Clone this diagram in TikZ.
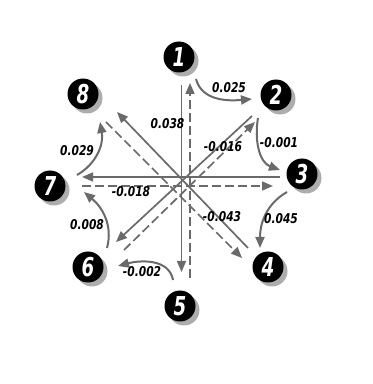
\documentclass[tikz,border=0pt]{standalone}
\usepackage{fontspec}
\newfontfamily\labfont{DejaVu Sans Condensed}
\usetikzlibrary{arrows.meta,calc}
\definecolor{linegrey}{HTML}{6A6A6A}
\definecolor{shadowgrey}{HTML}{ADADAD}
\newcommand{\digitnum}[1]{\scalebox{0.78}[1]{#1}}
\newcommand{\valtext}[1]{\scalebox{0.88}[1]{#1}}
\begin{document}
\begin{tikzpicture}[x=1pt,y=1pt,
  num/.style={circle, fill=black, minimum size=31pt, inner sep=0pt, text=white,
    font=\labfont\bfseries\itshape\fontsize{26}{26}\selectfont},
  shadowc/.style={circle, fill=shadowgrey, minimum size=31pt, inner sep=0pt},
  val/.style={font=\labfont\bfseries\itshape\fontsize{13.5}{13.5}\selectfont, inner sep=0pt},
  sol/.style={draw=linegrey, line width=1.7pt, -{Triangle[length=11pt,width=9pt]}},
  das/.style={sol, dash pattern=on 9pt off 4pt},
  curv/.style={draw=linegrey, line width=2pt, -{Triangle[length=11pt,width=9pt]}}
]
\useasboundingbox[fill=white] (0,0) rectangle (373,384);

% nodes with shadows
\foreach \n/\x/\y in {1/179/327, 2/276/289, 3/302/210, 4/268/117,
                      5/180/78, 6/88/117, 7/50/198, 8/83/290}{
  \node[shadowc] at (\x+4,\y-4) {};
  \node[num] (n\n) at (\x,\y) {\digitnum{\n}};
}

% end points of the radial arrows
\coordinate (v1) at (181.5,299);  \coordinate (v2) at (181.5,112);
\coordinate (v3) at (190,106);    \coordinate (v4) at (190,301);
\coordinate (h1) at (280,207);    \coordinate (h2) at (82,207);
\coordinate (h3) at (82,198);     \coordinate (h4) at (273,198);
\coordinate (d1) at (248,136);    \coordinate (d2) at (117,272);
\coordinate (d3) at (106,262);    \coordinate (d4) at (242,126);
\coordinate (e1) at (252,268);    \coordinate (e2) at (116,142);
\coordinate (e3) at (124,134);    \coordinate (e4) at (255,262);

% solid: 1->5, 3->7, 4->8, 2->6 ; dashed: opposite
\draw[sol] (v1) -- (v2);
\draw[das] (v3) -- (v4);
\draw[sol] (h1) -- (h2);
\draw[das] (h3) -- (h4);
\draw[sol] (d1) -- (d2);
\draw[das] (d3) -- (d4);
\draw[sol] (e1) -- (e2);
\draw[das] (e3) -- (e4);

% curved arrows between neighbours
\draw[curv] ($(n1)+(17,-22)$) to[out=-75,in=185] ($(n2)+(-24,-4)$);
\draw[curv] ($(n2)+(-18,-23)$) to[out=-100,in=160] ($(n3)+(-22,4)$);
\draw[curv] ($(n3)+(-15,-18)$) to[out=210,in=90] ($(n4)+(-8,19)$);
\draw[curv] ($(n5)+(-7,26)$) to[out=100,in=15] ($(n6)+(30,1)$);
\draw[curv] ($(n6)+(19,19)$) to[out=75,in=-40] ($(n7)+(34,-6)$);
\draw[curv] ($(n7)+(27,11)$) to[out=30,in=-80] ($(n8)+(17,-28)$);

% values
\node[val] (l12) at (229,296.5) {\valtext{0.025}};
\node[val] (l23) at (279,241) {\valtext{-0.001}};
\node[val] (l26) at (223,237) {\valtext{-0.016}};
\node[val] (l15) at (167.5,260) {\valtext{0.038}};
\node[val] (l78) at (77,233) {\valtext{0.029}};
\node[val] (l37) at (131,192) {\valtext{-0.018}};
\node[val] (l67) at (87,159) {\valtext{0.008}};
\node[val] (l56) at (142,112.5) {\valtext{-0.002}};
\node[val] (l48) at (222,167.5) {\valtext{-0.043}};
\node[val] (l34) at (281,165.5) {\valtext{0.045}};
\end{tikzpicture}
\end{document}
